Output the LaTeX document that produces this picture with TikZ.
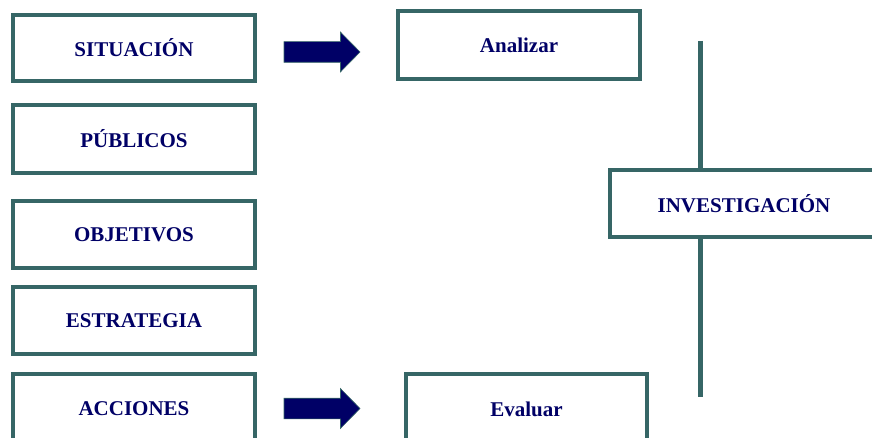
\documentclass[tikz,border=0pt]{standalone}
\usepackage{fontspec}
\setmainfont{Liberation Serif}
\usetikzlibrary{shapes.arrows}
\definecolor{boxteal}{HTML}{366666}
\definecolor{navytext}{HTML}{000066}
\begin{document}
\begin{tikzpicture}[x=1pt,y=-1pt,
  box/.style={draw=boxteal, line width=4pt, fill=white, inner sep=0pt, outer sep=0pt,
    minimum width=242pt, minimum height=67pt, text=navytext,
    font=\fontsize{21pt}{25pt}\selectfont\bfseries},
  blockarrow/.style={single arrow, fill=navytext, draw=boxteal, line width=0.6pt,
    minimum height=76pt, inner xsep=0pt, inner ysep=10pt, outer sep=0pt,
    single arrow head extend=9.5pt, single arrow tip angle=91, anchor=tail},
  stem/.style={draw=boxteal, line width=5pt}]
\useasboundingbox (0,0) rectangle (872,438);
\clip (0,0) rectangle (872,438);
\fill[white] (0,0) rectangle (872,438);
\node[box, minimum height=66pt] (sit) at (134,48) {SITUACIÓN};
\node[box, minimum height=68pt] (pub) at (134,139) {PÚBLICOS};
\node[box] (obj) at (134,234.5) {OBJETIVOS};
\node[box] (est) at (134,320.5) {ESTRATEGIA};
\node[box, minimum height=70pt] (acc) at (134,409) {ACCIONES};
\node[box, minimum height=68pt] (ana) at (519,45) {Analizar};
\node[box, minimum width=241pt, minimum height=70pt] (eva) at (526.5,409) {Evaluar};
\node[box, minimum width=268pt] (inv) at (744,203.5) {INVESTIGACIÓN};
\node[blockarrow] (ar1) at (284,52) {};
\node[blockarrow] (ar2) at (284,408.5) {};
\coordinate (top) at (700.5,41);
\coordinate (bot) at (700.5,397);
\draw[stem] (top) -- (top |- inv.north);
\draw[stem] (bot |- inv.south) -- (bot);
\end{tikzpicture}
\end{document}
